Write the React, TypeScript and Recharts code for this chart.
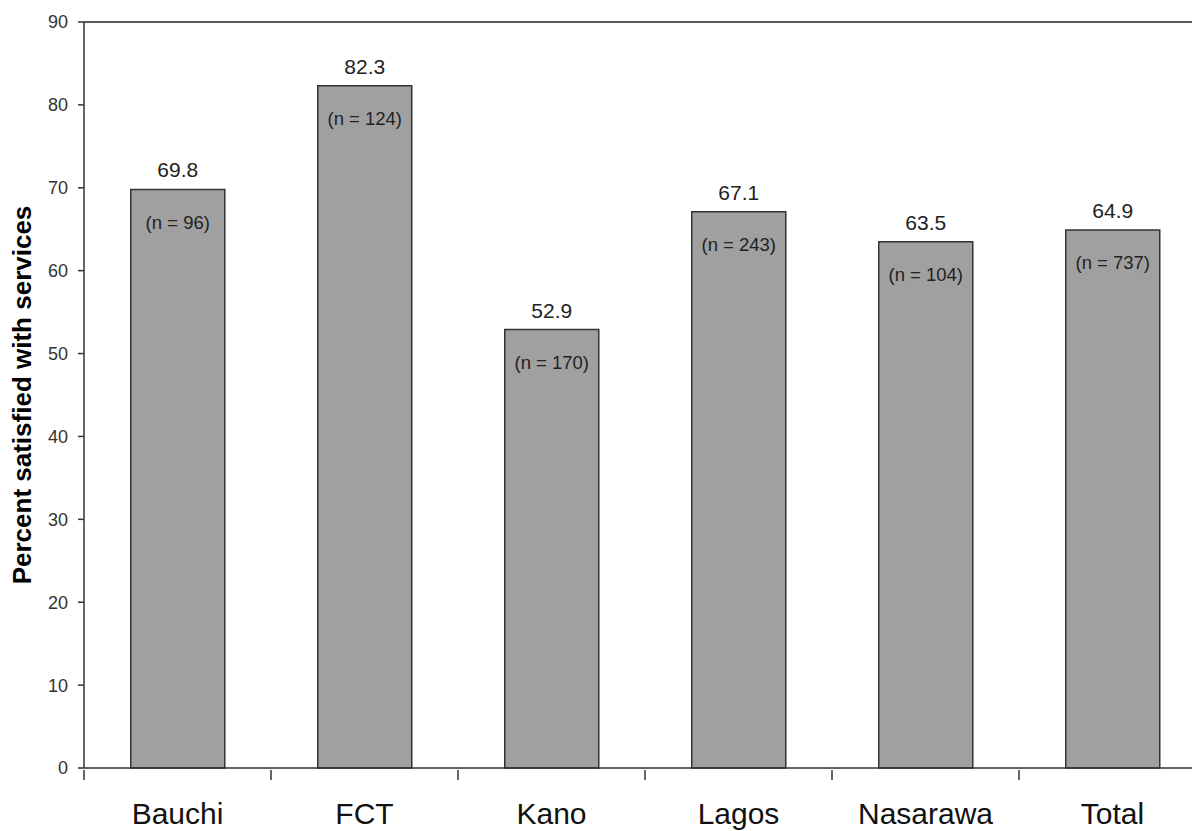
import { Bar, BarChart, LabelList, ReferenceLine, XAxis, YAxis } from "recharts"

const regions = ["Bauchi", "FCT", "Kano", "Lagos", "Nasarawa", "Total"]
const satisfied = [69.8, 82.3, 52.9, 67.1, 63.5, 64.9]
const sampleSizes = [96, 124, 170, 243, 104, 737]
const yTicks = [0, 10, 20, 30, 40, 50, 60, 70, 80, 90]

const data = regions.map((name, i) => ({ name, value: satisfied[i], n: sampleSizes[i] }))

const font = "'Liberation Sans', Arial, sans-serif"

// category label plus a tick mark on the left edge of each band (Excel style)
function RegionTick(props: any) {
    const { x, y, payload } = props
    const half = payload && payload.offset ? payload.offset : 0
    return (
        <g>
            <line x1={x - half} x2={x - half} y1={y} y2={y + 10} stroke="#333" strokeWidth={1.5} />
            <text x={x} y={y + 54} textAnchor="middle" fontSize={30} fill="#111" fontFamily={font}>
                {payload.value}
            </text>
        </g>
    )
}

export default function App() {
    return (
        <div style={{ position: "absolute", left: 0, top: 0, width: 1192, height: 831, overflow: "hidden", background: "#fff", fontFamily: font }}>
            <BarChart
                width={1210}
                height={831}
                data={data}
                margin={{ top: 22, right: 4, bottom: 0, left: 0 }}
                barCategoryGap="25%"
            >
                <XAxis
                    dataKey="name"
                    height={63}
                    tickLine={false}
                    tickSize={0}
                    axisLine={{ stroke: "#333", strokeWidth: 1.5 }}
                    tick={<RegionTick />}
                    interval={0}
                />
                <YAxis
                    width={84}
                    domain={[0, 90]}
                    ticks={yTicks}
                    interval={0}
                    tickSize={6}
                    tickMargin={10}
                    axisLine={{ stroke: "#333", strokeWidth: 1.5 }}
                    tickLine={{ stroke: "#333", strokeWidth: 1.5 }}
                    tick={{ fontSize: 18, fill: "#333", fontFamily: font }}
                    label={{
                        value: "Percent satisfied with services",
                        angle: -90,
                        position: "insideLeft",
                        offset: 22,
                        style: { textAnchor: "middle", fontSize: 26, fontWeight: "bold", fill: "#000", fontFamily: font },
                    }}
                />
                <ReferenceLine y={90} stroke="#222" strokeWidth={1.5} />
                <Bar dataKey="value" fill="#a0a0a0" stroke="#333" strokeWidth={1.5} isAnimationActive={false}>
                    <LabelList dataKey="value" position="top" offset={12} style={{ fontSize: 21, fill: "#222", fontFamily: font }} />
                    <LabelList
                        dataKey="n"
                        position="insideTop"
                        offset={26}
                        formatter={(v: number) => `(n = ${v})`}
                        style={{ fontSize: 18.5, fill: "#222", fontFamily: font }}
                    />
                </Bar>
            </BarChart>
        </div>
    )
}
